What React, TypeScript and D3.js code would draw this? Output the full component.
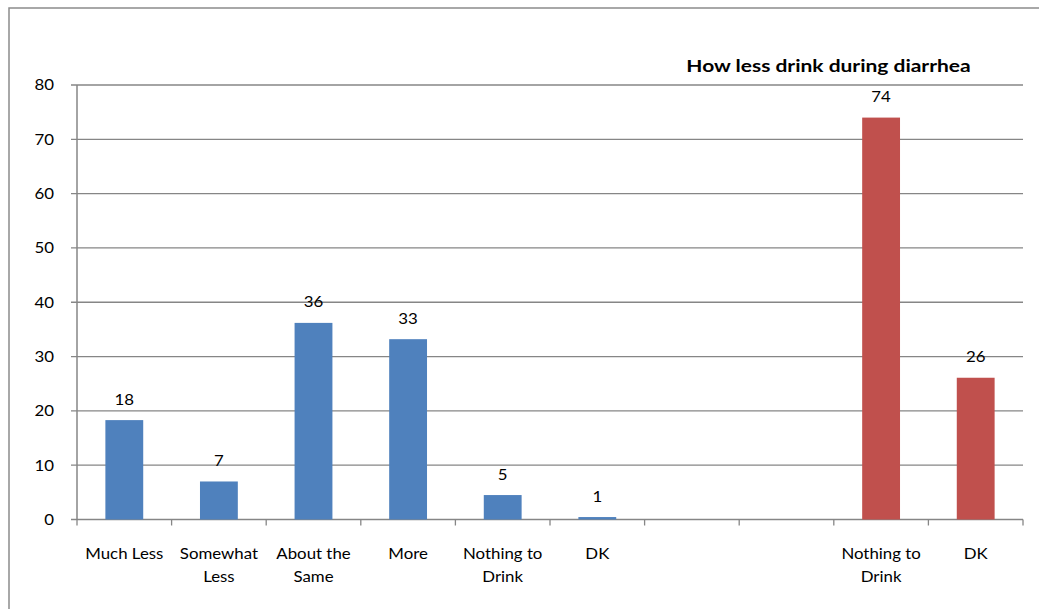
import React from "react";
import * as d3 from "d3";

const categories: string[] = ["Much Less", "Somewhat Less", "About the Same", "More", "Nothing to Drink", "DK", "", "", "Nothing to Drink", "DK"];
const categoryLines: string[][] = [["Much Less"], ["Somewhat", "Less"], ["About the", "Same"], ["More"], ["Nothing to", "Drink"], ["DK"], [], [], ["Nothing to", "Drink"], ["DK"]];
const values: (number | null)[] = [18.3, 7.0, 36.2, 33.2, 4.5, 0.45, null, null, 74.0, 26.1];
const valueLabels: string[] = ["18", "7", "36", "33", "5", "1", "", "", "74", "26"];
const seriesIndex: number[] = [0, 0, 0, 0, 0, 0, 0, 0, 1, 1];
const seriesColors: string[] = ["#4F81BD", "#C0504D"];
const yTicks: number[] = [0, 10, 20, 30, 40, 50, 60, 70, 80];
const title = "How less drink during diarrhea";

const FONT = "Lato, 'Open Sans', sans-serif";
const SX = 1.1;

function T(props: { x: number; y: number; anchor?: string; size?: number; bold?: boolean; sx?: number; children: React.ReactNode }) {
  const { x, y, anchor = "middle", size = 15.3, bold = false, sx = SX, children } = props;
  return (
    <text
      transform={`translate(${x},${y}) scale(${sx},1)`}
      textAnchor={anchor}
      fontFamily={FONT}
      fontSize={size}
      fontWeight={bold ? "bold" : "normal"}
      fill="#000"
    >
      {children}
    </text>
  );
}

export default function App() {
  const W = 1039, H = 609;
  const left = 77, right = 1023, top = 85, bottom = 519.5;
  const keys = categories.map((_, i) => String(i));
  const x = d3.scaleBand<string>().domain(keys).range([left, right]).padding(0);
  const y = d3.scaleLinear().domain([0, 80]).range([bottom, top]);
  const bw = x.bandwidth() * 0.4;
  const grid = "#868686";
  const boundaries = d3.range(keys.length + 1).map((i) => left + i * x.bandwidth());

  return (
    <svg width={W} height={H} style={{ position: "absolute", left: 0, top: 0, display: "block" }}>
      <rect x={0} y={0} width={W} height={H} fill="#fff" />
      <rect x={9} y={8} width={W + 20} height={H + 20} fill="none" stroke="#8c8c8c" strokeWidth={1.5} />
      {yTicks.map((t) => (
        <g key={t}>
          <line x1={left - 6} x2={right} y1={y(t)} y2={y(t)} stroke={grid} strokeWidth={1.3} />
          <T x={54} y={y(t) + 5.4} anchor="end">{t}</T>
        </g>
      ))}
      <line x1={left} x2={left} y1={top} y2={bottom} stroke={grid} strokeWidth={1.5} />
      {boundaries.map((bx, i) => (
        <line key={i} x1={bx} x2={bx} y1={bottom} y2={bottom + 6} stroke={grid} strokeWidth={1.3} />
      ))}
      {values.map((v, i) => {
        if (v == null) return null;
        const cx = (x(String(i)) as number) + x.bandwidth() / 2;
        return (
          <g key={i}>
            <rect x={cx - bw / 2} y={y(v)} width={bw} height={bottom - y(v)} fill={seriesColors[seriesIndex[i]]} />
            <T x={cx} y={y(v) - 15.5}>{valueLabels[i]}</T>
          </g>
        );
      })}
      {categoryLines.map((lines, i) => {
        const cx = (x(String(i)) as number) + x.bandwidth() / 2;
        return (
          <g key={i}>
            {lines.map((l, j) => (
              <T key={j} x={cx} y={559 + j * 22.5}>{l}</T>
            ))}
          </g>
        );
      })}
      <T x={828.5} y={72.3} size={17.2} bold sx={1.22}>{title}</T>
    </svg>
  );
}
